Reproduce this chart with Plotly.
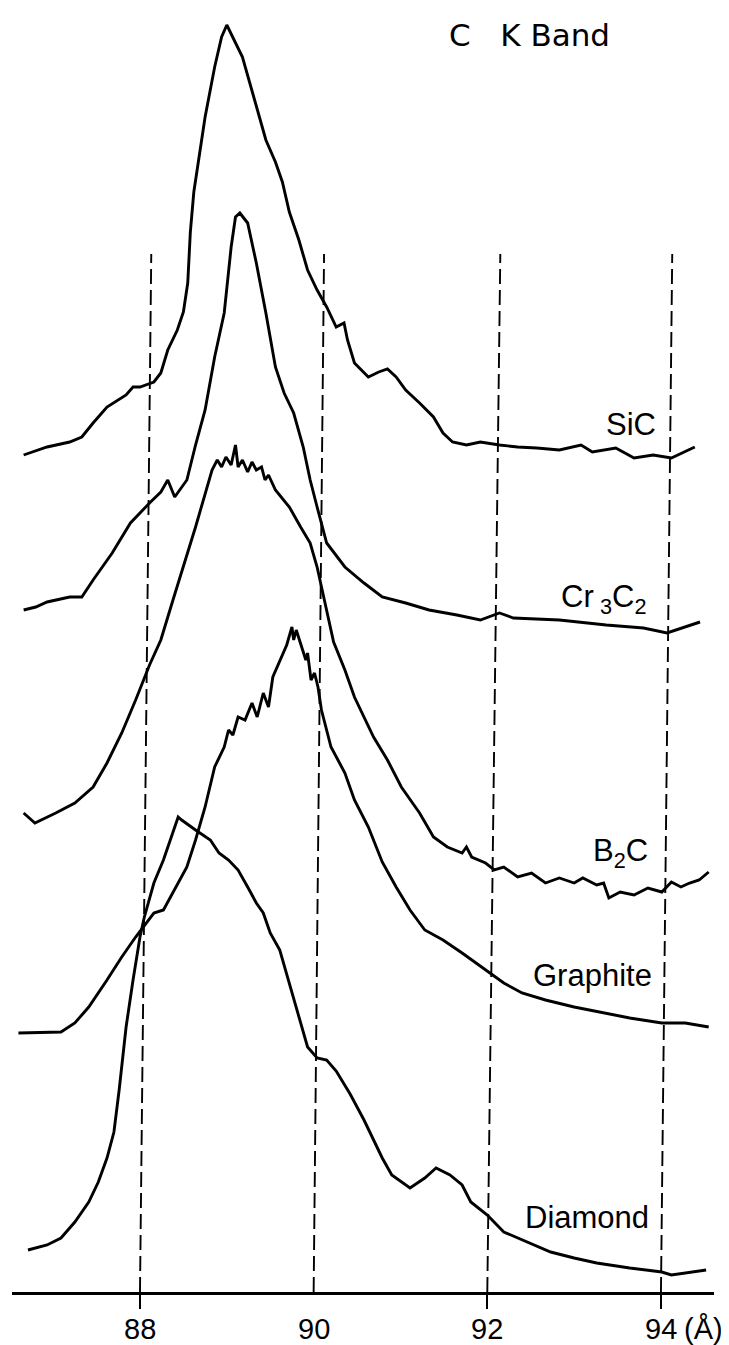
import plotly.graph_objects as go

# ---------------- data (wavelength in Angstrom, stacked intensity in arbitrary units) -------------
sic_x = [86.66, 86.93, 87.19, 87.33, 87.46, 87.62, 87.84, 87.92, 88.0, 88.16, 88.24, 88.32, 88.43,
         88.50, 88.55, 88.58, 88.62, 88.68, 88.75, 88.86, 88.94, 89.0, 89.07, 89.18, 89.32, 89.45,
         89.56, 89.64, 89.72, 89.83, 89.93, 90.04, 90.15, 90.26, 90.35, 90.39, 90.47, 90.63, 90.75,
         90.85, 90.95, 91.06, 91.22, 91.38, 91.49, 91.60, 91.76, 91.92, 92.14, 92.35, 92.57, 92.83,
         93.08, 93.21, 93.48, 93.69, 93.91, 94.12, 94.39]
sic_y = [8.37, 8.45, 8.50, 8.55, 8.69, 8.85, 8.97, 9.05, 9.05, 9.10, 9.19, 9.42, 9.62,
         9.80, 10.09, 10.6, 11.0, 11.35, 11.75, 12.25, 12.55, 12.67, 12.55, 12.35, 11.92, 11.52,
         11.3, 11.1, 10.8, 10.52, 10.22, 10.02, 9.85, 9.65, 9.69, 9.52, 9.29, 9.15, 9.20,
         9.23, 9.15, 9.02, 8.89, 8.75, 8.59, 8.50, 8.47, 8.50, 8.47, 8.45, 8.44, 8.42,
         8.47, 8.40, 8.44, 8.34, 8.37, 8.34, 8.45]

cr3c2_x = [86.66, 86.80, 86.93, 87.19, 87.33, 87.46, 87.68, 87.89, 88.11, 88.24, 88.32, 88.40, 88.54,
           88.64, 88.75, 88.86, 88.97, 89.05, 89.10, 89.15, 89.24, 89.34, 89.45, 89.56, 89.66, 89.77,
           89.88, 89.96, 90.04, 90.15, 90.36, 90.58, 90.79, 91.06, 91.33, 91.65, 91.92, 92.14, 92.30,
           92.83, 93.37, 93.80, 94.07, 94.28, 94.45]
cr3c2_y = [6.82, 6.85, 6.90, 6.95, 6.95, 7.12, 7.39, 7.69, 7.89, 8.00, 8.12, 7.95, 8.12,
           8.47, 8.82, 9.35, 9.79, 10.45, 10.75, 10.79, 10.69, 10.29, 9.79, 9.25, 8.99, 8.79,
           8.45, 8.12, 7.85, 7.49, 7.25, 7.09, 6.95, 6.89, 6.82, 6.77, 6.72, 6.79, 6.74,
           6.72, 6.67, 6.64, 6.59, 6.65, 6.70]

b2c_x = [86.66, 86.79, 87.03, 87.25, 87.46, 87.62, 87.79, 87.95, 88.11, 88.24, 88.38, 88.64, 88.83,
         88.89, 88.94, 88.99, 89.05, 89.10, 89.13, 89.18, 89.24, 89.29, 89.34, 89.40, 89.44, 89.48,
         89.56, 89.72, 89.85, 89.96, 90.04, 90.12, 90.23, 90.36, 90.47, 90.69, 90.85, 91.01, 91.22,
         91.38, 91.54, 91.71, 91.76, 91.82, 91.98, 92.08, 92.19, 92.35, 92.51, 92.67, 92.83, 93.00,
         93.10, 93.26, 93.34, 93.40, 93.53, 93.69, 93.85, 94.01, 94.12, 94.23, 94.33, 94.44, 94.55]
b2c_y = [4.79, 4.69, 4.79, 4.89, 5.05, 5.29, 5.59, 5.92, 6.27, 6.52, 6.92, 7.65, 8.22,
         8.32, 8.25, 8.35, 8.27, 8.47, 8.25, 8.32, 8.20, 8.30, 8.22, 8.25, 8.12, 8.17,
         8.02, 7.85, 7.65, 7.49, 7.25, 6.92, 6.50, 6.22, 5.95, 5.55, 5.32, 5.05, 4.79,
         4.55, 4.45, 4.39, 4.45, 4.35, 4.29, 4.22, 4.25, 4.15, 4.19, 4.09, 4.14, 4.09,
         4.14, 4.07, 4.09, 3.94, 4.00, 3.97, 4.04, 4.00, 4.10, 4.05, 4.09, 4.12, 4.20]

graphite_x = [86.60, 87.09, 87.25, 87.41, 87.62, 87.79, 87.95, 88.05, 88.16, 88.27, 88.40, 88.54,
              88.64, 88.75, 88.86, 88.97, 89.02, 89.07, 89.13, 89.21, 89.29, 89.35, 89.42, 89.48,
              89.53, 89.61, 89.69, 89.75, 89.77, 89.80, 89.85, 89.91, 89.93, 89.97, 90.01, 90.05,
              90.09, 90.20, 90.36, 90.47, 90.63, 90.79, 90.95, 91.11, 91.28, 91.49, 91.71, 91.87,
              92.03, 92.19, 92.40, 92.67, 93.00, 93.37, 93.64, 94.01, 94.28, 94.55]
graphite_y = [2.59, 2.60, 2.69, 2.85, 3.12, 3.35, 3.55, 3.67, 3.79, 3.82, 4.02, 4.25,
              4.52, 4.85, 5.25, 5.45, 5.62, 5.57, 5.75, 5.72, 5.89, 5.75, 5.99, 5.85,
              6.15, 6.32, 6.47, 6.65, 6.52, 6.62, 6.49, 6.32, 6.39, 6.12, 6.19, 6.05,
              5.82, 5.45, 5.19, 4.92, 4.65, 4.30, 4.05, 3.82, 3.62, 3.52, 3.39, 3.29,
              3.19, 3.09, 2.99, 2.92, 2.85, 2.79, 2.74, 2.69, 2.69, 2.65]

diamond_x = [86.71, 86.93, 87.09, 87.25, 87.41, 87.52, 87.62, 87.70, 87.76, 87.84, 87.92, 88.0,
             88.05, 88.16, 88.27, 88.38, 88.44, 88.48, 88.55, 88.64, 88.81, 88.91, 89.02, 89.13,
             89.24, 89.34, 89.42, 89.50, 89.61, 89.72, 89.83, 89.93, 90.04, 90.15, 90.26, 90.42,
             90.58, 90.69, 90.79, 90.90, 91.11, 91.28, 91.41, 91.57, 91.71, 91.81, 92.00, 92.19,
             92.46, 92.73, 93.00, 93.26, 93.64, 94.01, 94.12, 94.33, 94.52]
diamond_y = [0.42, 0.47, 0.54, 0.70, 0.90, 1.10, 1.34, 1.60, 2.02, 2.65, 3.12, 3.55,
             3.75, 4.09, 4.32, 4.59, 4.75, 4.72, 4.68, 4.62, 4.52, 4.39, 4.32, 4.22,
             4.05, 3.89, 3.79, 3.59, 3.42, 3.09, 2.75, 2.45, 2.34, 2.32, 2.21, 1.98,
             1.72, 1.52, 1.34, 1.17, 1.04, 1.14, 1.24, 1.17, 1.07, 0.90, 0.77, 0.60,
             0.50, 0.40, 0.34, 0.29, 0.24, 0.20, 0.17, 0.20, 0.22]

series_names = ["SiC", "Cr\u2009<sub>3</sub>C<sub>2</sub>", "B<sub>2</sub>C", "Graphite", "Diamond"]
label_x = [93.65, 93.34, 93.53, 93.21, 93.15]
label_y = [8.68, 6.93, 4.39, 3.17, 0.75]

# reference wavelength lines (slightly tilted in the original scan)
ref_bottom_x = [88, 90, 92, 94]
ref_top_x = [88.13, 90.12, 92.15, 94.13]
ref_top_y = 10.38

tick_marks = [88, 92, 94]
tick_vals = [88, 90, 92, 94]
tick_text = ["88", "90", "92", "94"]
unit_text = "(Å)"

title_text = "C   K Band"

# ---------------- figure -------------
# The page body keeps its default 8 px margin, so the figure is sized/offset to compensate.
FONT = "Liberation Sans, Arial, sans-serif"
fig = go.Figure()

curves = [(sic_x, sic_y), (cr3c2_x, cr3c2_y), (b2c_x, b2c_y),
          (graphite_x, graphite_y), (diamond_x, diamond_y)]
for (xs, ys) in curves:
    fig.add_trace(go.Scatter(x=xs, y=ys, mode="lines",
                             line=dict(color="black", width=2.9),
                             showlegend=False, hoverinfo="skip"))

for xb, xt in zip(ref_bottom_x, ref_top_x):
    fig.add_trace(go.Scatter(x=[xb, xt], y=[0, ref_top_y], mode="lines",
                             line=dict(color="black", width=1.9, dash="15px,6px"),
                             showlegend=False, hoverinfo="skip"))

for name, lx, ly in zip(series_names, label_x, label_y):
    fig.add_annotation(x=lx, y=ly, text=name, showarrow=False,
                       xanchor="center", yanchor="middle",
                       font=dict(family=FONT, size=31, color="black"))

# axis tick labels (the 90 position carries a label but no tick mark in the original)
for tv, tt in zip(tick_vals, tick_text):
    fig.add_annotation(x=tv, y=0, yref="paper", text=tt, showarrow=False,
                       xanchor="center", yanchor="middle", yshift=-37,
                       font=dict(family=FONT, size=29, color="black"))
fig.add_annotation(x=tick_vals[-1], y=0, yref="paper", text=unit_text, showarrow=False,
                   xanchor="left", yanchor="middle", xshift=21, yshift=-37,
                   font=dict(family=FONT, size=29, color="black"))

fig.add_annotation(x=92.49, y=12.57, text=title_text, showarrow=False,
                   xanchor="center", yanchor="middle",
                   font=dict(family="DejaVu Sans, sans-serif", size=31, color="black"))

fig.update_layout(
    width=721, height=1345,
    margin=dict(l=4, r=15, t=0, b=61),
    paper_bgcolor="white", plot_bgcolor="white",
    xaxis=dict(range=[86.526, 94.611], showline=True, linecolor="black", linewidth=2.5,
               ticks="outside", ticklen=14, tickwidth=2, tickcolor="black",
               tickvals=tick_marks, showticklabels=False,
               showgrid=False, zeroline=False),
    yaxis=dict(range=[0, 12.84], visible=False, showgrid=False, zeroline=False),
)

fig.write_html("out.html")
